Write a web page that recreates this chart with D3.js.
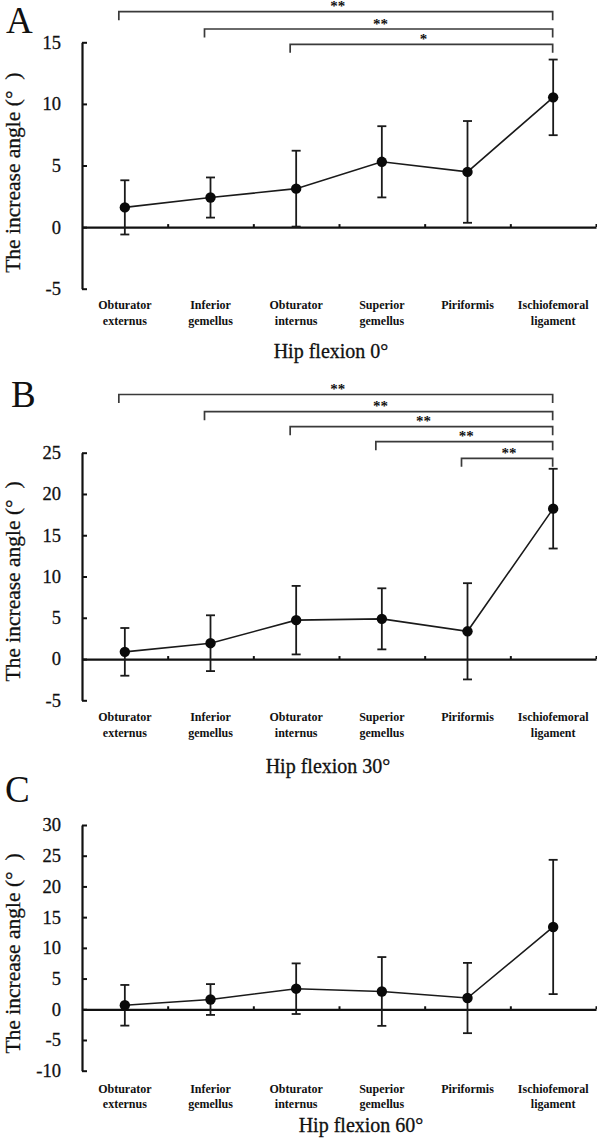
<!DOCTYPE html>
<html>
<head>
<meta charset="utf-8">
<script src="https://cdn.jsdelivr.net/npm/d3@7"></script>
<style>
  html, body { margin: 0; padding: 0; background: #fff; }
  svg { display: block; }
  text { font-family: "Liberation Serif", "Times New Roman", serif; fill: #111; }
</style>
</head>
<body>
<svg id="chart" width="597" height="1141"></svg>
<script>
// ---------- data ----------
const categories = ["Obturator externus", "Inferior gemellus", "Obturator internus",
                    "Superior gemellus", "Piriformis", "Ischiofemoral ligament"];
const categoryLines = [["Obturator", "externus"], ["Inferior", "gemellus"], ["Obturator", "internus"],
                       ["Superior", "gemellus"], ["Piriformis"], ["Ischiofemoral", "ligament"]];

const meanA = [1.6, 2.4, 3.12, 5.3, 4.48, 10.53];
const sdA   = [2.2, 1.63, 3.08, 2.89, 4.13, 3.07];
const meanB = [0.87, 1.92, 4.71, 4.87, 3.36, 18.22];
const sdB   = [2.89, 3.38, 4.15, 3.7, 5.83, 4.83];
const meanC = [0.65, 1.59, 3.35, 2.9, 1.83, 13.4];
const sdC   = [3.31, 2.51, 4.12, 5.6, 5.72, 10.93];

const yTicksA = [-5, 0, 5, 10, 15];
const yTicksB = [-5, 0, 5, 10, 15, 20, 25];
const yTicksC = [-10, -5, 0, 5, 10, 15, 20, 25, 30];

const sigFromA = [0, 1, 2];
const sigLabelA = ["**", "**", "*"];
const sigFromB = [0, 1, 2, 3, 4];
const sigLabelB = ["**", "**", "**", "**", "**"];
const sigTo = 5;

const titles = ["Hip flexion 0°", "Hip flexion 30°", "Hip flexion 60°"];
const letters = ["A", "B", "C"];
const yLabel = "The increase angle (°\u00A0\u00A0)";

// ---------- layout ----------
const X0 = 82, X1 = 596;
const panels = [
  { mean: meanA, sd: sdA, ticks: yTicksA, sigFrom: sigFromA, sigLabel: sigLabelA,
    top: 42.3, bottom: 288.7, bracketY: [11.7, 29, 44.3],
    lab1: 309, lab2: 324.5, titleX: 331, titleY: 358, letterX: 6, letterY: 33, ylabY: 172.7 },
  { mean: meanB, sd: sdB, ticks: yTicksB, sigFrom: sigFromB, sigLabel: sigLabelB,
    top: 452.7, bottom: 700.3, bracketY: [394.5, 411.7, 426.7, 441.7, 458.3],
    lab1: 721, lab2: 736.5, titleX: 328, titleY: 773, letterX: 11, letterY: 407, ylabY: 581.5 },
  { mean: meanC, sd: sdC, ticks: yTicksC, sigFrom: [], sigLabel: [],
    top: 825, bottom: 1070.7, bracketY: [],
    lab1: 1092.5, lab2: 1108, titleX: 361, titleY: 1132, letterX: 5, letterY: 802, ylabY: 953.5 }
];

const svg = d3.select("#chart");
const ink = "#111";

const x = d3.scaleBand().domain(categories).range([X0, X1]).paddingInner(0).paddingOuter(0);
const xEdge = d3.scaleLinear().domain([0, categories.length]).range([X0, X1]);

panels.forEach((p, pi) => {
  const g = svg.append("g");
  const ext = d3.extent(p.ticks);
  const y = d3.scaleLinear().domain(ext).range([p.bottom, p.top]);
  const cx = c => x(c) + x.bandwidth() / 2;

  // y axis
  const yAxis = d3.axisLeft(y).tickValues(p.ticks).tickSizeInner(-5).tickSizeOuter(0).tickPadding(21)
    .tickFormat(d => String(d));
  const ya = g.append("g").attr("transform", `translate(${X0},0)`).call(yAxis);
  ya.select(".domain").attr("stroke", ink).attr("stroke-width", 2.2);
  ya.selectAll(".tick line").attr("stroke", ink).attr("stroke-width", 2);
  ya.selectAll(".tick text").attr("font-size", 18.5).attr("font-family", "Liberation Serif, serif")
    .attr("fill", ink).attr("stroke", ink).attr("stroke-width", 0.3);

  // x axis (line at zero with small upward ticks at band edges)
  const xAxis = d3.axisTop(xEdge).tickValues(d3.range(1, categories.length + 1)).tickSize(3)
    .tickSizeOuter(0).tickFormat("");
  const xa = g.append("g").attr("transform", `translate(0,${y(0)})`).call(xAxis);
  xa.select(".domain").attr("stroke", ink).attr("stroke-width", 2.2);
  xa.selectAll(".tick line").attr("stroke", ink).attr("stroke-width", 2);

  // category labels
  categories.forEach((c, i) => {
    const t = g.append("text").attr("text-anchor", "middle").attr("font-size", 12)
      .attr("font-weight", "bold");
    categoryLines[i].forEach((ln, k) => {
      t.append("tspan").attr("x", cx(c)).attr("y", k === 0 ? p.lab1 : p.lab2).text(ln);
    });
  });

  // data line
  const pts = categories.map((c, i) => ({ c, m: p.mean[i], s: p.sd[i] }));
  g.append("path").datum(pts)
    .attr("fill", "none").attr("stroke", "#1a1a1a").attr("stroke-width", 1.6)
    .attr("d", d3.line().x(d => cx(d.c)).y(d => y(d.m)));

  // error bars
  const eb = g.append("g").attr("stroke", "#1a1a1a").attr("stroke-width", 1.8);
  pts.forEach(d => {
    const X = cx(d.c), hi = y(d.m + d.s), lo = y(d.m - d.s);
    eb.append("line").attr("x1", X).attr("x2", X).attr("y1", hi).attr("y2", lo);
    eb.append("line").attr("x1", X - 4.5).attr("x2", X + 4.5).attr("y1", hi).attr("y2", hi);
    eb.append("line").attr("x1", X - 4.5).attr("x2", X + 4.5).attr("y1", lo).attr("y2", lo);
  });

  // markers
  g.selectAll("circle.pt").data(pts).enter().append("circle")
    .attr("class", "pt").attr("cx", d => cx(d.c)).attr("cy", d => y(d.m)).attr("r", 5.2)
    .attr("fill", "#0a0a0a");

  // significance brackets
  p.sigFrom.forEach((fi, k) => {
    const by = p.bracketY[k];
    const xl = cx(categories[fi]) - 6, xr = cx(categories[sigTo]) - 0.5;
    g.append("path")
      .attr("d", `M${xl},${by + 8.5}V${by}H${xr}V${by + 8.5}`)
      .attr("fill", "none").attr("stroke", "#3a3a3a").attr("stroke-width", 1.7);
    g.append("text").attr("x", (xl + xr) / 2 + 2).attr("y", by - 0.5)
      .attr("text-anchor", "middle").attr("font-size", 15).attr("font-weight", "bold")
      .attr("fill", "#222").text(p.sigLabel[k]);
  });

  // axis title
  g.append("text").attr("x", p.titleX).attr("y", p.titleY).attr("text-anchor", "middle")
    .attr("font-size", 20).attr("stroke", ink).attr("stroke-width", 0.3).text(titles[pi]);

  // y label
  g.append("text").attr("transform", `translate(19.5,${p.ylabY}) rotate(-90)`)
    .attr("text-anchor", "middle").attr("font-size", 21.5).attr("stroke", ink).attr("stroke-width", 0.3)
    .style("white-space", "pre").text(yLabel);

  // panel letter
  g.append("text").attr("x", p.letterX).attr("y", p.letterY).attr("font-size", 37).text(letters[pi]);
});
</script>
</body>
</html>
